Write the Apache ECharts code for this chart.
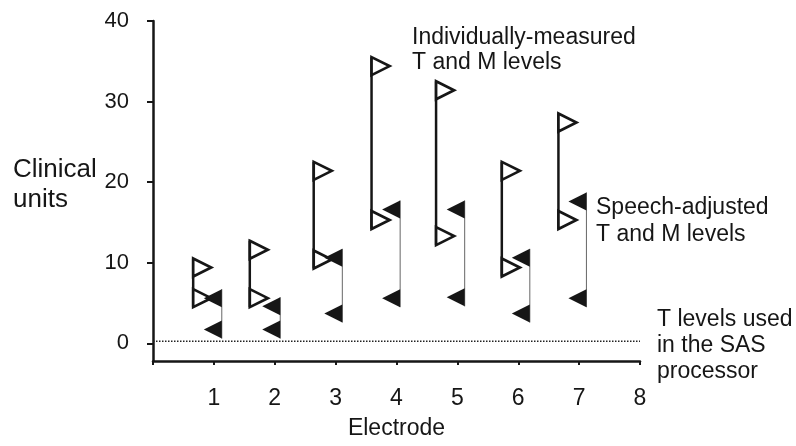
<!DOCTYPE html>
<html>
<head>
<meta charset="utf-8">
<title>Clinical units per electrode</title>
<script src="https://cdn.jsdelivr.net/npm/echarts@6.0.0/dist/echarts.min.js"></script>
<style>
  html, body { margin: 0; padding: 0; background: #fff; }
  #chart { width: 796px; height: 446px; }
</style>
</head>
<body>
<div id="chart"></div>
<script>
// electrode positions of the two flag columns (x units)
var openX = [0.66, 1.59, 2.64, 3.59, 4.65, 5.73, 6.66];
var filledX = [1.13, 2.09, 3.11, 4.06, 5.12, 6.19, 7.12];
// individually-measured levels (open flags)
var measuredM = [9.4, 11.6, 21.4, 34.4, 31.4, 21.4, 27.4];
var measuredT = [5.6, 5.6, 10.4, 15.3, 13.3, 9.4, 15.3];
// speech-adjusted levels (filled flags)
var adjustedM = [5.6, 4.6, 10.6, 16.6, 16.6, 10.6, 17.6];
var adjustedT = [1.7, 1.7, 3.7, 5.6, 5.7, 3.7, 5.6];
// T level used in the SAS processor (dotted line)
var sasT = 0.25;
var xTicks = [1, 2, 3, 4, 5, 6, 7, 8];
var yTicks = [0, 10, 20, 30, 40];

var ink = '#161616';
var font = '"Liberation Sans", Arial, Helvetica, sans-serif';

function pairs(xs, a, b) {
    var out = [];
    for (var i = 0; i < xs.length; i++) {
        out.push([xs[i], a[i]]);
        out.push([xs[i], b[i]]);
    }
    return out;
}
function spans(xs, lo, hi) {
    return xs.map(function (x, i) { return [x, lo[i], hi[i]]; });
}
function stem(width, color) {
    return function (params, api) {
        var top = api.coord([api.value(0), api.value(2)]);
        var bot = api.coord([api.value(0), api.value(1)]);
        return {
            type: 'line',
            shape: { x1: top[0], y1: top[1] - 9, x2: bot[0], y2: bot[1] + 9 },
            style: { stroke: color, lineWidth: width }
        };
    };
}

var myChart = echarts.init(document.getElementById('chart'));

option = {
    animation: false,
    backgroundColor: '#fff',
    grid: { left: 153, right: 156, top: 21, bottom: 85, containLabel: false, outerBoundsMode: 'none' },
    xAxis: {
        type: 'value',
        min: 0,
        max: 8,
        interval: 1,
        name: 'Electrode',
        nameLocation: 'middle',
        nameGap: 56,
        nameTextStyle: { color: ink, fontSize: 23, fontFamily: font },
        axisLine: { onZero: false, lineStyle: { color: ink, width: 2.5 } },
        axisTick: { length: 4, lineStyle: { color: ink, width: 2 } },
        axisLabel: { customValues: xTicks, margin: 26, color: ink, fontSize: 23, fontFamily: font },
        splitLine: { show: false }
    },
    yAxis: {
        type: 'value',
        min: -2.2,
        max: 40,
        axisLine: { show: true, onZero: false, lineStyle: { color: ink, width: 2.5 } },
        axisTick: { show: true, customValues: yTicks, length: 6, lineStyle: { color: ink, width: 2 } },
        axisLabel: { customValues: yTicks, margin: 24, color: ink, fontSize: 22, fontFamily: font },
        splitLine: { show: false }
    },
    series: [
        {
            // dotted T level line
            type: 'line',
            data: [[0, sasT], [8, sasT]],
            showSymbol: false,
            lineStyle: { color: '#222', width: 1.5, type: [1.5, 1.5] },
            silent: true
        },
        {
            type: 'custom',
            data: spans(openX, measuredT, measuredM),
            encode: { x: 0, y: [1, 2] },
            renderItem: stem(2.5, ink)
        },
        {
            type: 'custom',
            data: spans(filledX, adjustedT, adjustedM),
            encode: { x: 0, y: [1, 2] },
            renderItem: stem(1, '#666')
        },
        {
            type: 'scatter',
            data: pairs(openX, measuredM, measuredT),
            symbol: 'path://M0,0L10,5L0,10Z',
            symbolSize: [18, 18],
            symbolOffset: [9, 0],
            itemStyle: { color: '#fff', borderColor: ink, borderWidth: 2.7, opacity: 1 },
            z: 3
        },
        {
            type: 'scatter',
            data: pairs(filledX, adjustedM, adjustedT),
            symbol: 'path://M10,0L0,5L10,10Z',
            symbolSize: [18, 18],
            symbolOffset: [-9, 0],
            itemStyle: { color: ink, opacity: 1 },
            z: 4
        }
    ],
    graphic: [
        {
            type: 'text', left: 13, top: 155,
            style: { text: 'Clinical\nunits', fill: ink, font: '26px ' + font, lineHeight: 30 }
        },
        {
            type: 'text', left: 412, top: 25,
            style: { text: 'Individually-measured\nT and M levels', fill: ink, font: '23px ' + font, lineHeight: 25 }
        },
        {
            type: 'text', left: 596, top: 194,
            style: { text: 'Speech-adjusted\nT and M levels', fill: ink, font: '23px ' + font, lineHeight: 27 }
        },
        {
            type: 'text', left: 657, top: 307,
            style: { text: 'T levels used\nin the SAS\nprocessor', fill: ink, font: '23px ' + font, lineHeight: 26 }
        }
    ]
};

myChart.setOption(option);
window.addEventListener('resize', function () {
    myChart.resize();
});
</script>
</body>
</html>
